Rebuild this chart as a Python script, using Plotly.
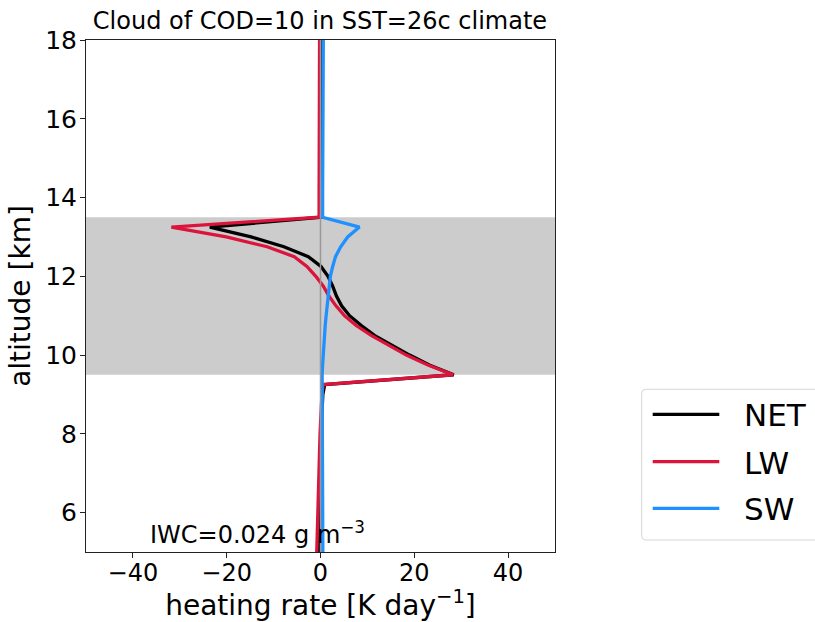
import plotly.graph_objects as go

# ---------------- data ----------------
altitude = [5.0, 6.0, 7.0, 8.0, 9.0, 9.25, 9.5, 9.75, 10.0, 10.25, 10.5, 10.75,
            11.0, 11.25, 11.5, 11.75, 12.0, 12.25, 12.5, 12.75, 13.0, 13.25,
            13.5, 14.0, 15.0, 16.0, 17.0, 18.0]
net = [-0.2, -0.1, 0.0, 0.1, 0.5, 0.9, 28.4, 23.2, 19.0, 15.1, 11.5, 8.7,
       6.2, 4.5, 3.4, 2.6, 1.6, 0.1, -2.6, -7.8, -14.8, -23.6,
       0.1, 0.2, 0.2, 0.3, 0.3, 0.4]
lw = [-0.8, -0.6, -0.4, -0.1, 0.3, 0.6, 28.3, 22.9, 18.3, 14.4, 10.8, 7.6,
      5.1, 3.3, 1.8, 0.6, -1.0, -2.9, -5.6, -11.4, -20.1, -31.8,
      -0.3, -0.3, -0.3, -0.3, -0.2, -0.2]
sw = [0.5, 0.45, 0.4, 0.35, 0.35, 0.35, 0.35, 0.45, 0.55, 0.7, 0.85, 1.0,
      1.2, 1.4, 1.6, 1.8, 2.1, 2.6, 3.2, 4.3, 5.8, 8.3,
      0.45, 0.45, 0.5, 0.5, 0.55, 0.6]
cloud_base, cloud_top = 9.5, 13.5
series_names = ["NET", "LW", "SW"]
series_colors = ["black", "#dc143c", "#1e90ff"]
xticks = [-40, -20, 0, 20, 40]
yticks = [6, 8, 10, 12, 14, 16, 18]

# ---------------- layout geometry (pixels) ----------------
W, H = 815, 622
L, R, T, B = 86, 555, 40, 552
def px(x):
    return (x - L) / (R - L)
def py(y):
    return (B - y) / (B - T)

FONT = "DejaVu Sans"
fig = go.Figure()

for name, vals, col in zip(series_names, [net, lw, sw], series_colors):
    fig.add_trace(go.Scatter(x=vals, y=altitude, mode="lines", name=name,
                             line=dict(color=col, width=3.3), showlegend=False))

shapes = [
    dict(type="rect", xref="paper", yref="y", x0=0, x1=1, y0=cloud_base, y1=cloud_top,
         fillcolor="#cccccc", line=dict(width=0), layer="below"),
    dict(type="line", xref="x", yref="paper", x0=0, x1=0, y0=0, y1=1,
         line=dict(color="#999999", width=1.5), layer="above"),
]

# manual legend
lx0, lx1, ly0, ly1 = 641.7, 840, 389.3, 540
r = 4
path = (f"M{px(lx0 + r)},{py(ly0)} L{px(lx1)},{py(ly0)} L{px(lx1)},{py(ly1)} "
        f"L{px(lx0 + r)},{py(ly1)} Q{px(lx0)},{py(ly1)} {px(lx0)},{py(ly1 - r)} "
        f"L{px(lx0)},{py(ly0 + r)} Q{px(lx0)},{py(ly0)} {px(lx0 + r)},{py(ly0)} Z")
shapes.append(dict(type="path", xref="paper", yref="paper", path=path,
                   line=dict(color="#d6d6d6", width=1), fillcolor="white", layer="above"))
annotations = []
leg_y = [414.3, 461.7, 508.3]
for name, col, yy in zip(series_names, series_colors, leg_y):
    shapes.append(dict(type="line", xref="paper", yref="paper",
                       x0=px(652.7), x1=px(719.3), y0=py(yy), y1=py(yy),
                       line=dict(color=col, width=3.3), layer="above"))
    annotations.append(dict(x=px(742), y=py(yy + 1), xref="paper", yref="paper",
                            text=name, showarrow=False, xanchor="left", yanchor="middle",
                            font=dict(family=FONT, size=31, color="black")))

annotations.append(dict(x=px(148), y=py(551), xref="paper", yref="paper",
                        text="IWC=0.024 g m<sup>−3</sup>", showarrow=False,
                        xanchor="left", yanchor="bottom",
                        font=dict(family=FONT, size=24, color="black")))

fig.update_layout(
    width=W, height=H,
    margin=dict(l=L, r=W - R, t=T, b=H - B, autoexpand=False),
    paper_bgcolor="white", plot_bgcolor="white",
    font=dict(family=FONT, color="black"),
    title=dict(text="Cloud of COD=10 in SST=26c climate", x=px(320), xanchor="center",
               xref="paper", y=1 - 21 / H, yref="container", yanchor="middle",
               font=dict(family=FONT, size=24, color="black")),
    shapes=shapes, annotations=annotations,
    xaxis=dict(range=[-50, 50], tickvals=xticks, ticktext=[str(v).replace("-", "−") for v in xticks],
               showgrid=False, zeroline=False, showline=True, linecolor="#222222", linewidth=1,
               mirror=True, ticks="outside", ticklen=5, tickwidth=1, tickcolor="#222222",
               ticklabelstandoff=-6,
               tickfont=dict(family=FONT, size=24, color="black"),
               title=dict(text="heating rate [K day<sup>−1</sup>]", standoff=4,
                          font=dict(family=FONT, size=28, color="black"))),
    yaxis=dict(range=[5, 18], tickvals=yticks, ticktext=[str(v) for v in yticks],
               showgrid=False, zeroline=False, showline=True, linecolor="#222222", linewidth=1,
               mirror=True, ticks="outside", ticklen=5, tickwidth=1, tickcolor="#222222",
               ticklabelstandoff=-2,
               tickfont=dict(family=FONT, size=25, color="black"),
               title=dict(text="altitude [km]", standoff=6,
                          font=dict(family=FONT, size=28, color="black"))),
)

fig.write_html("out.html", config={"displayModeBar": False},
               post_script="document.body.style.margin='0';document.body.style.overflow='hidden';")
